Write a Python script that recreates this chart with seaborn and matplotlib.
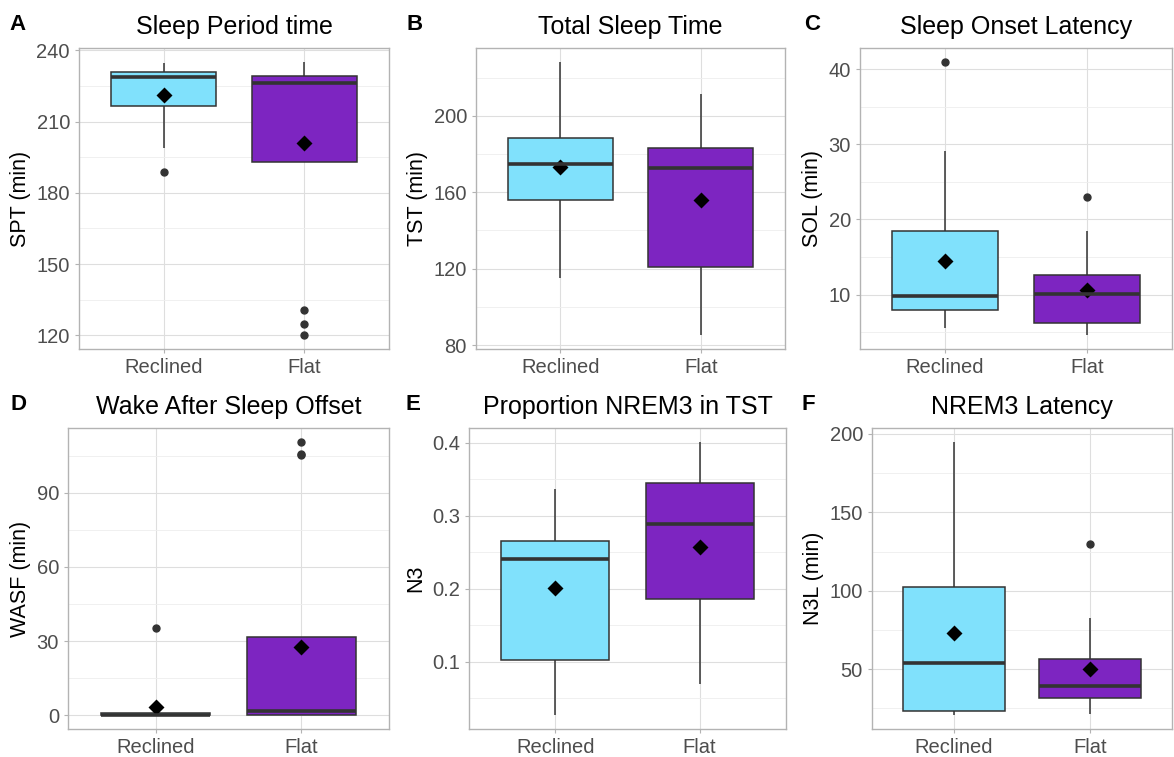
import numpy as np
import pandas as pd
import matplotlib as mpl
from matplotlib import pyplot as plt
from matplotlib.ticker import MultipleLocator, AutoMinorLocator
import seaborn as sns

# Data
groups = ["Reclined", "Flat"]
colors = ["#80E1FC", "#7D25C1"]

spt_reclined = [188.8, 199, 210, 216.4, 220, 225, 228.9, 229.5, 230.3, 230.9, 231, 231.1, 234.7]
spt_flat = [120, 124.6, 130.5, 193, 215, 220, 226.1, 227, 228, 229.1, 232, 233.8, 235.2]

tst_reclined = [115.3, 138, 150, 156.0, 162, 170, 175.0, 180, 185, 188.1, 195, 210.2, 228.3]
tst_flat = [85.1, 98, 112, 121.0, 135, 160, 172.4, 175, 180, 183.2, 190, 202.3, 211.4]

sol_reclined = [5.5, 6, 7, 8.0, 8.2, 8.8, 9.78, 11, 13.5, 18.5, 22.17, 29.05, 41.0]
sol_flat = [4.58, 5.0, 5.8, 6.22, 7.5, 9.0, 10.05, 10.8, 11.9, 12.67, 13.69, 18.5, 23.0]

wasf_reclined = [0, 0, 0, 0, 0, 0, 0, 0.8, 1.4, 1.5, 35.3]
wasf_flat = [0, 0, 0, 0, 0.4, 0.6, 1.9, 1.9, 1.9, 31.8, 105.2, 105.8, 110.6]

n3_reclined = [0.0267, 0.07, 0.09, 0.1022, 0.18, 0.22, 0.2406, 0.25, 0.26, 0.2653, 0.28, 0.2875, 0.3368]
n3_flat = [0.0702, 0.12, 0.16, 0.1865, 0.21, 0.25, 0.2891, 0.30, 0.32, 0.345, 0.35, 0.3514, 0.4018]

n3l_reclined = [20.6, 21, 22, 23.1, 30, 45, 54.0, 60, 80, 102.4, 110, 183.2, 195.1]
n3l_flat = [21.6, 25, 29, 31.7, 34, 37, 39.6, 44, 50, 56.2, 69.8, 82.4, 129.7]

panels = [
    ("A", "Sleep Period time", "SPT (min)", spt_reclined, spt_flat, 30),
    ("B", "Total Sleep Time", "TST (min)", tst_reclined, tst_flat, 40),
    ("C", "Sleep Onset Latency", "SOL (min)", sol_reclined, sol_flat, 10),
    ("D", "Wake After Sleep Offset", "WASF (min)", wasf_reclined, wasf_flat, 30),
    ("E", "Proportion NREM3 in TST", "N3", n3_reclined, n3_flat, 0.1),
    ("F", "NREM3 Latency", "N3L (min)", n3l_reclined, n3l_flat, 50),
]

# panel boxes in pixels: left, right, top, bottom
boxes = [
    (79, 389, 48, 349), (476, 785, 48, 349), (860, 1172, 48, 349),
    (68, 389, 428, 729), (469, 786, 428, 729), (872, 1172, 428, 729),
]
labels_xy = [(18, 25), (415, 25), (812, 25), (18, 405), (413, 405), (808, 405)]

sns.set_theme(style="whitegrid")
plt.rcParams.update({
    "font.family": ["Liberation Sans", "DejaVu Sans"],
    "axes.edgecolor": "#B3B3B3",
    "axes.linewidth": 1.0,
    "xtick.color": "#B3B3B3",
    "ytick.color": "#B3B3B3",
    "xtick.labelcolor": "#4D4D4D",
    "ytick.labelcolor": "#4D4D4D",
    "xtick.labelsize": 14.5,
    "ytick.labelsize": 14.5,
    "xtick.major.size": 3,
    "ytick.major.size": 3,
    "ytick.minor.size": 0,
    "xtick.major.width": 0.8,
    "ytick.major.width": 0.8,
    "xtick.bottom": True,
    "ytick.left": True,
})

W, H = 1174, 757
fig = plt.figure(figsize=(W / 100, H / 100), dpi=100)

for (tag, title, ylab, rec, flat, step), (l, r, t, b), (lx, ly) in zip(panels, boxes, labels_xy):
    ax = fig.add_axes([l / W, 1 - b / H, (r - l) / W, (b - t) / H])
    df = pd.DataFrame({
        "cond": ["Reclined"] * len(rec) + ["Flat"] * len(flat),
        "val": rec + flat,
    })

    sns.boxplot(
        data=df, x="cond", y="val", hue="cond", order=groups, hue_order=groups,
        palette=colors, saturation=1, width=0.75, linecolor="#333333", linewidth=1.1,
        showcaps=False, legend=False, ax=ax,
        medianprops=dict(linewidth=2.6, color="#333333"),
        flierprops=dict(marker="o", markerfacecolor="#333333",
                        markeredgecolor="#333333", markersize=5),
    )
    # mean markers
    sns.pointplot(
        data=df, x="cond", y="val", order=groups, estimator="mean",
        errorbar=None, linestyle="none", marker="D", color="black",
        markersize=6, ax=ax,
    )

    ax.set_xlim(-0.6, 1.6)
    ax.yaxis.set_major_locator(MultipleLocator(step))
    ax.yaxis.set_minor_locator(AutoMinorLocator(2))
    ax.grid(True, which="major", color="#DEDEDE", linewidth=0.8)
    ax.grid(True, which="minor", axis="y", color="#EEEEEE", linewidth=0.6)
    ax.set_axisbelow(True)
    ax.set_xlabel("")
    ax.set_ylabel(ylab, fontsize=15.5, color="black", labelpad=4)
    ax.set_title(title, fontsize=18, pad=10, color="black")
    for s in ax.spines.values():
        s.set_visible(True)
        s.set_color("#B3B3B3")

    fig.text(lx / W, 1 - ly / H, tag, fontsize=16, fontweight="bold",
             color="black", ha="center", va="center")

fig.savefig("out.png", dpi=100)
